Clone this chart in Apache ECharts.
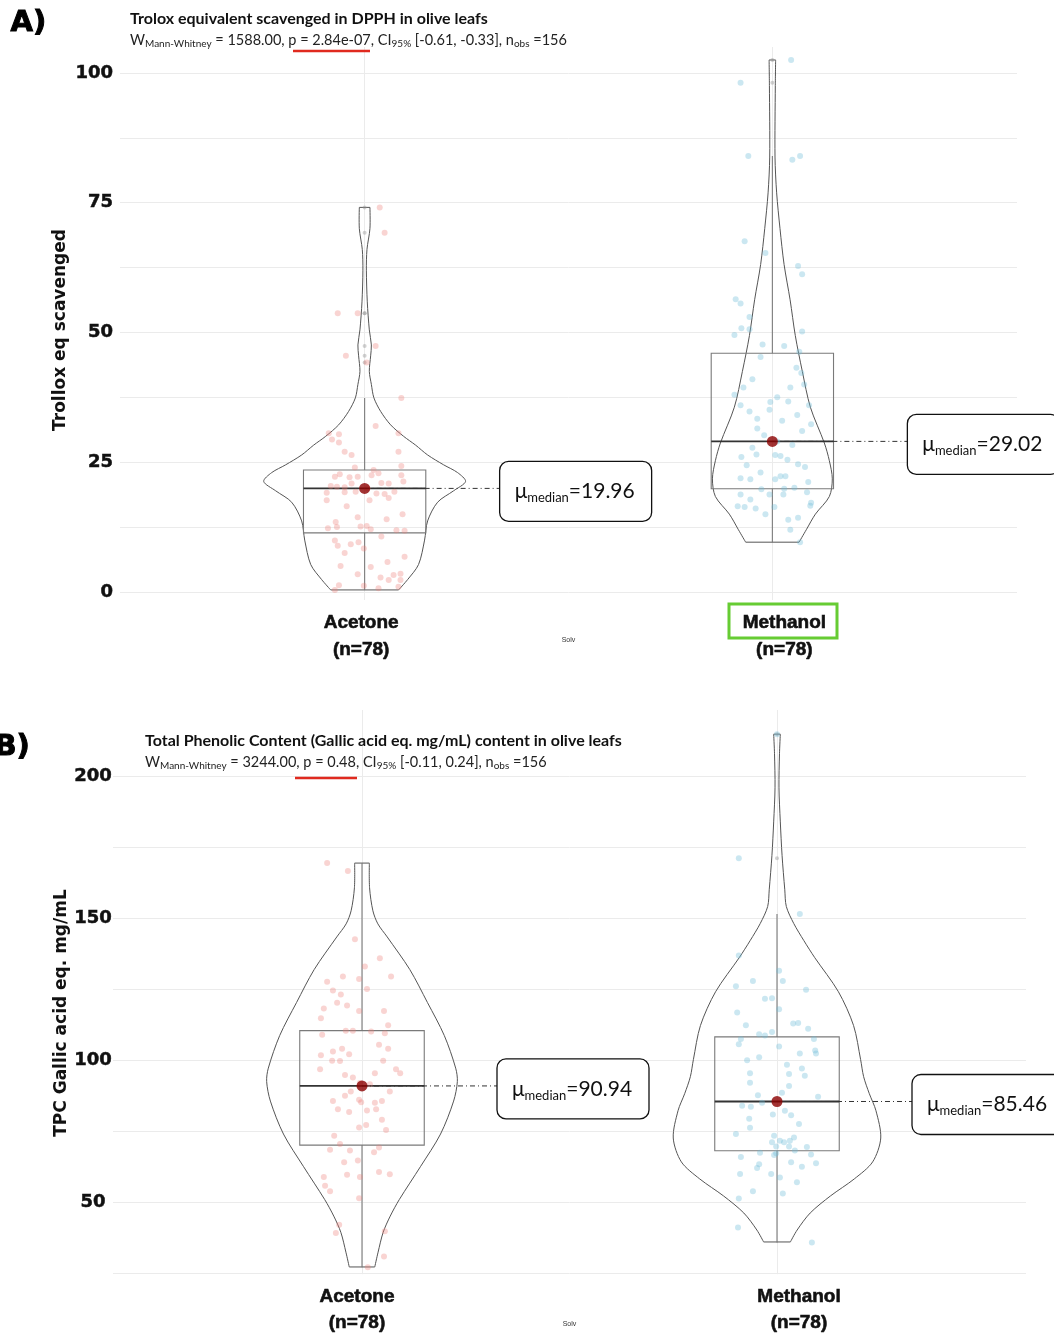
<!DOCTYPE html>
<html>
<head>
<meta charset="utf-8">
<script src="https://cdn.jsdelivr.net/npm/echarts@6/dist/echarts.min.js"></script>
<style>
html,body{margin:0;padding:0;background:#ffffff;}
#chart{width:1054px;height:1333px;}
</style>
</head>
<body>
<div id="chart"></div>
<script>
// ================= DATA =================
const categories = ['Acetone', 'Methanol'];
const groupCounts = [78, 78];

// ---- Panel A : Trolox eq scavenged (DPPH) ----
const aTitle = 'Trolox equivalent scavenged in DPPH in olive leafs';
const aStatsParts = ['1588.00', '2.84e-07', '[-0.61, -0.33]', '156'];
const aYLabel = 'Trollox eq scavenged';
const aYTickLabels = [0, 25, 50, 75, 100];
const aGridBreaks = [0, 12.5, 25, 37.5, 50, 62.5, 75, 87.5, 100];
const aMedians = [19.96, 29.02];
// [lower whisker, Q1, median, Q3, upper whisker]
const aAcetoneBox = [0.4, 11.4, 19.96, 23.5, 37.4];
const aMethanolBox = [9.6, 19.9, 29.02, 46.0, 84.0];
const aAcetoneValues = [74.1,69.2,53.7,53.7,47.4,45.5,44.2,37.4,32.0,30.6,29.4,30.4,28.8,30.6,27.0,26.4,27.0,24.3,23.5,22.2,22.7,22.1,22.2,22.5,22.9,20.9,22.5,21.3,20.4,20.3,20.2,20.9,19.1,19.2,19.0,18.9,17.7,17.7,18.1,19.3,15.0,14.4,13.5,12.5,12.3,12.7,12.1,11.9,11.8,9.9,8.9,9.2,9.6,8.4,7.5,6.8,5.8,4.8,3.4,2.8,3.3,3.5,2.3,2.3,1.3,0.4,1.2,0.7,1.0,19.3,21.0,12.6,10.7,20.0,16.5,24.0,14.0,5.0];
const aAcetoneJitter = [.037,.049,-.066,-.017,.027,-.046,.005,.090,.027,-.088,-.080,-.063,-.063,.083,-.049,-.032,.083,.090,.022,-.073,-.061,-.037,-.017,.017,.034,.059,.090,.095,-.083,-.068,-.049,-.032,-.093,-.049,.029,.049,-.093,.012,.059,.073,.093,-.017,-.071,-.068,-.090,.005,.015,.078,.098,-.073,-.066,-.034,-.015,-.002,-.049,.098,.056,.015,-.017,.039,.071,.088,.088,.059,-.063,-.073,-.002,.034,.083,-.022,.041,-.010,.041,.007,-.044,-.024,.054,-.059];
const aMethanolValues = [102.5,98.1,84.0,83.3,84.0,67.6,65.3,62.8,61.2,56.4,55.6,53.0,50.8,50.6,49.5,50.2,47.7,47.4,45.3,46.3,43.2,42.2,39.4,39.4,40.0,38.0,36.0,36.6,36.7,36.0,34.8,35.1,33.4,34.1,32.3,27.8,26.5,26.4,24.6,26.0,24.4,24.1,21.9,21.7,21.7,22.3,22.3,20.1,21.2,19.8,18.8,18.8,18.8,19.2,16.5,16.4,16.1,16.4,15.0,17.2,16.6,13.9,14.3,12.0,9.6,26.2,31.5,19.9,29.0,30.2,28.3,31.0,23.0,17.8,25.5,37.5,41.0,33.0];
const aMethanolJitter = [.046,-.078,-.059,.049,.068,-.068,-.017,.063,.073,-.090,-.078,-.056,-.076,-.056,-.093,.073,-.024,.029,-.029,.066,.059,.071,-.071,.044,.078,-.093,-.078,-.005,.039,.090,-.056,-.007,-.037,.061,.095,-.049,-.039,.007,.063,-.076,-.063,.080,-.078,-.054,.007,.020,.032,.054,.088,-.027,-.007,.027,-.078,.085,-.085,-.068,-.041,.005,-.017,.095,.093,.039,.063,.044,.068,.020,-.037,.029,.012,-.020,.049,.073,-.029,-.054,.037,.012,-.049,.024];
// violin outline: y levels and relative density (half width)
const aAcetoneViolinY = [0.4,2.4,5.3,10,13.7,17.3,19.5,21.3,23,24.5,26.4,28.3,30,32.2,34.8,37.4,40,42.5,45.5,47.6,50.5,55.9,62,66,70,74.1];
const aAcetoneViolinD = [.333,.422,.529,.588,.618,.716,.873,.99,.912,.775,.618,.5,.382,.255,.157,.091,.066,.046,.059,.066,.046,.026,.017,.023,.052,.052];
const aMethanolViolinY = [9.6,12.0,15.0,18.4,21.8,25.3,28.7,35.6,42.5,49.4,56.3,63.1,70.0,76.9,83.8,97.6,102.5];
const aMethanolViolinD = [.262,.333,.422,.559,.588,.559,.51,.373,.294,.225,.174,.115,.075,.042,.026,.029,.032];

// ---- Panel B : Total Phenolic Content ----
const bTitle = 'Total Phenolic Content (Gallic acid eq. mg/mL) content in olive leafs';
const bStatsParts = ['3244.00', '0.48', '[-0.11, 0.24]', '156'];
const bYLabel = 'TPC Gallic acid eq. mg/mL';
const bYTickLabels = [50, 100, 150, 200];
const bGridBreaks = [25, 50, 75, 100, 125, 150, 175, 200];
const bMedians = [90.94, 85.46];
const bAcetoneBox = [27.1, 70.1, 90.94, 110.4, 169.4];
const bMethanolBox = [35.8, 68.1, 85.46, 108.2, 151.5];
const bAcetoneValues = [169.4,166.6,142.6,135.9,133.0,129.5,127.6,129.5,128.6,124.5,123.1,125.1,120.2,119.3,118.2,117.3,117.3,114.8,112.3,110.4,110.4,110.1,109.5,109.0,105.4,104.0,104.0,103.1,102.1,101.7,99.8,99.7,99.8,96.8,96.8,95.4,94.8,93.9,95.4,89.0,89.0,87.5,85.6,86.1,85.2,85.0,85.6,82.7,81.8,82.3,82.7,77.2,76.3,75.4,73.4,70.5,68.5,68.2,69.3,67.6,64.1,64.7,59.7,58.9,60.6,59.8,58.9,55.8,53.9,51.4,42.1,39.2,39.8,30.9,27.1,92.0,91.5,79.0];
const bAcetoneJitter = [-.084,-.034,-.017,.043,.007,.070,-.084,-.046,-.007,-.070,-.051,.012,-.060,-.036,-.092,-.007,.053,-.099,.063,-.039,-.022,.022,.055,-.096,.041,-.048,.063,-.070,-.031,-.099,-.072,-.053,.051,-.101,.082,.092,-.041,-.022,.031,-.027,.067,-.041,-.070,-.007,-.002,.031,.048,-.058,-.031,.012,.034,.010,-.007,.058,-.067,-.053,-.077,-.029,.041,.029,-.043,-.010,-.036,-.005,.041,.067,-.092,-.089,-.077,-.007,-.055,-.063,.055,.053,.014,-.005,.019,.048];
const bMethanolValues = [214.8,171.1,151.5,136.9,131.5,127.9,127.9,126.0,124.8,121.6,121.8,117.9,116.8,112.3,112.9,113.1,111.1,109.1,108.7,109.9,107.5,107.5,105.6,104.8,101.0,103.4,102.4,102.4,98.4,97.1,95.4,95.1,94.5,92.1,90.9,87.7,87.1,83.6,82.2,80.9,80.6,79.4,76.2,74.0,73.4,71.6,71.1,71.1,71.6,72.8,69.6,69.6,68.2,69.4,67.4,67.2,66.6,66.8,65.9,63.7,64.1,63.4,62.0,59.9,59.9,58.7,53.9,53.1,51.3,41.1,35.8,85.0,77.5,88.5,100.0,62.5,84.0,57.0];
const bMethanolJitter = [0,-.092,.055,-.092,.005,-.058,.014,-.099,.070,-.029,-.012,.005,-.096,-.075,.039,.051,.075,-.043,-.029,-.012,-.087,.089,-.092,.005,-.043,.092,.094,.055,.024,.060,-.065,.029,.067,-.065,.029,-.046,.099,-.063,.019,-.010,.034,-.067,-.065,-.099,-.007,.007,.017,-.012,.031,.041,-.002,.029,.043,.072,-.041,-.002,-.007,.082,-.087,.094,.034,-.043,-.048,-.089,-.014,.007,-.058,.014,-.092,-.094,.084,-.036,.053,.012,-.072,.060,-.084,.048];
const bAcetoneViolinY = [27.2,32.4,39.4,45.1,50.9,62.5,74.0,85.6,92.5,97.2,108.7,120.3,131.9,143.4,148,152.6,160.7,169.4];
const bAcetoneViolinD = [.123,.155,.204,.272,.359,.563,.757,.883,.919,.903,.793,.631,.461,.243,.153,.105,.073,.071];
const bMethanolViolinY = [36.0,40.2,46.2,52.2,58.2,64.2,72.6,82.2,88.2,94.2,100.2,112.2,124.1,136.1,142.1,148.1,154.1,160.0,172.0,183.9,195.9,207.9,214.8];
const bMethanolViolinD = [.129,.194,.32,.515,.745,.922,1.0,.954,.89,.835,.806,.738,.592,.364,.259,.162,.09,.075,.049,.032,.019,.024,.032];

// ================= STYLE CONSTANTS =================
const violinHalf = 0.25;   // category units for density 1
const boxHalf = 0.15;
const pointColors = ['rgba(238,128,122,0.42)', 'rgba(110,188,215,0.45)'];
const gridColor = '#ebebeb';
const labelFont = 'Lato';

// ================= BUILD =================
const panels = [
  { values: [aAcetoneValues, aMethanolValues], jitter: [aAcetoneJitter, aMethanolJitter],
    box: [aAcetoneBox, aMethanolBox], medians: aMedians,
    violins: [{ y: aAcetoneViolinY, d: aAcetoneViolinD }, { y: aMethanolViolinY, d: aMethanolViolinD }] },
  { values: [bAcetoneValues, bMethanolValues], jitter: [bAcetoneJitter, bMethanolJitter],
    box: [bAcetoneBox, bMethanolBox], medians: bMedians,
    violins: [{ y: bAcetoneViolinY, d: bAcetoneViolinD }, { y: bMethanolViolinY, d: bMethanolViolinD }] }
];

function violinRender(profiles) {
  return function (params, api) {
    const prof = profiles[params.dataIndex];
    const cx = api.value(0);
    const L = [], R = [];
    for (let i = 0; i < prof.y.length; i++) {
      L.push(api.coord([cx - prof.d[i] * violinHalf, prof.y[i]]));
      R.push(api.coord([cx + prof.d[i] * violinHalf, prof.y[i]]));
    }
    const n = L.length - 1;
    const st = { stroke: '#555555', lineWidth: 1, fill: 'none' };
    return { type: 'group', children: [
      { type: 'polyline', shape: { points: L, smooth: 0.3 }, style: st },
      { type: 'polyline', shape: { points: R, smooth: 0.3 }, style: st },
      { type: 'line', shape: { x1: L[0][0], y1: L[0][1], x2: R[0][0], y2: R[0][1] }, style: st },
      { type: 'line', shape: { x1: L[n][0], y1: L[n][1], x2: R[n][0], y2: R[n][1] }, style: st }
    ]};
  };
}

function boxRender(params, api) {
  const x = api.value(0), mn = api.value(1), q1 = api.value(2), md = api.value(3), q3 = api.value(4), mx = api.value(5);
  const tl = api.coord([x - boxHalf, q3]), br = api.coord([x + boxHalf, q1]);
  const top = api.coord([x, mx]), bot = api.coord([x, mn]);
  const c3 = api.coord([x, q3]), c1 = api.coord([x, q1]);
  const ml = api.coord([x - boxHalf, md]), mr = api.coord([x + boxHalf, md]);
  const st = { stroke: '#7a7a7a', lineWidth: 1.1, fill: 'none' };
  return { type: 'group', children: [
    { type: 'rect', shape: { x: tl[0], y: tl[1], width: br[0] - tl[0], height: br[1] - tl[1] }, style: st },
    { type: 'line', shape: { x1: top[0], y1: top[1], x2: c3[0], y2: c3[1] }, style: st },
    { type: 'line', shape: { x1: c1[0], y1: c1[1], x2: bot[0], y2: bot[1] }, style: st },
    { type: 'line', shape: { x1: ml[0], y1: ml[1], x2: mr[0], y2: mr[1] }, style: { stroke: '#333333', lineWidth: 1.8 } }
  ]};
}

function medianLabelRender(params, api) {
  const x = api.value(0), md = api.value(1);
  const c = api.coord([x, md]);
  const bx = c[0] + 135, by = c[1] + 3;
  return { type: 'group', children: [
    { type: 'line', shape: { x1: c[0], y1: c[1], x2: bx, y2: c[1] }, style: { stroke: '#333', lineWidth: 1, lineDash: [5, 3, 1, 3] } },
    { type: 'rect', shape: { x: bx, y: by - 30, width: 152, height: 60, r: 9 }, style: { fill: '#fff', stroke: '#111', lineWidth: 1.3 } },
    { type: 'text', x: bx + 15, y: by, style: {
        text: '{n|μ}{s|median}{n|=' + md.toFixed(2) + '}',
        verticalAlign: 'middle', align: 'left',
        rich: {
          n: { fontFamily: labelFont, fontSize: 21, lineHeight: 26, fill: '#111', color: '#111' },
          s: { fontFamily: labelFont, fontSize: 13, lineHeight: 9, verticalAlign: 'bottom', fill: '#111', color: '#111' }
        } } }
  ]};
}

const series = [];
panels.forEach((p, g) => {
  series.push({
    type: 'custom', xAxisIndex: g, yAxisIndex: g, z: 2, clip: false, silent: true,
    renderItem: violinRender(p.violins),
    data: [[1, p.medians[0]], [2, p.medians[1]]]
  });
  series.push({
    type: 'custom', xAxisIndex: g, yAxisIndex: g, z: 3, clip: false, silent: true,
    renderItem: boxRender,
    data: [[1].concat(p.box[0]), [2].concat(p.box[1])]
  });
  // outliers (beyond whiskers), drawn at category centre
  const outl = [];
  p.values.forEach((vals, k) => vals.forEach(v => {
    if (v > p.box[k][4] || v < p.box[k][0]) outl.push([k + 1, v]);
  }));
  series.push({
    type: 'scatter', xAxisIndex: g, yAxisIndex: g, z: 3, silent: true,
    symbolSize: 4, itemStyle: { color: 'rgba(150,150,150,0.55)' }, data: outl
  });
  p.values.forEach((vals, k) => {
    series.push({
      type: 'scatter', xAxisIndex: g, yAxisIndex: g, z: 4, silent: true,
      symbolSize: 6, itemStyle: { color: pointColors[k] },
      data: vals.map((v, i) => [k + 1 + p.jitter[k][i], v])
    });
  });
  series.push({
    type: 'custom', xAxisIndex: g, yAxisIndex: g, z: 5, clip: false, silent: true,
    renderItem: medianLabelRender,
    data: [[1, p.medians[0]], [2, p.medians[1]]]
  });
  series.push({
    type: 'scatter', xAxisIndex: g, yAxisIndex: g, z: 6, silent: true,
    symbolSize: 11, itemStyle: { color: '#8b0000' },
    data: [[1, p.medians[0]], [2, p.medians[1]]]
  });
});

function catFormatter(panelIdx) {
  return function (v) {
    const k = Math.round(v) - 1;
    const tag = 'p' + panelIdx + 'c' + k;
    return '{' + tag + '|' + categories[k] + '}\n{' + tag + '|(n=' + groupCounts[k] + ')}';
  };
}
function catRich(padA, padB, lh) {
  const base = { fontFamily: 'Liberation Sans', fontWeight: 'bold', fontSize: 19, lineHeight: lh, color: '#111',
                 textBorderColor: '#111', textBorderWidth: 0.6 };
  return [Object.assign({}, base, { padding: padA }), Object.assign({}, base, { padding: padB })];
}
const ra = catRich([0, 7, 0, 0], [0, 0, 0, 24], 27);
const rb = catRich([0, 10, 0, 0], [0, 0, 0, 44], 26);

function subtitleText(parts) {
  return '{n|W}{s|Mann-Whitney}{n| = ' + parts[0] + ', p = ' + parts[1] + ', CI}{s|95%}{n| ' + parts[2] + ', n}{s|obs}{n| =' + parts[3] + '}';
}
const subRich = {
  n: { fontFamily: labelFont, fontSize: 14.5, lineHeight: 17, color: '#222' },
  s: { fontFamily: labelFont, fontSize: 10, lineHeight: 9, verticalAlign: 'bottom', color: '#222' }
};

const tickFont = { fontFamily: 'DejaVu Sans', fontWeight: 'bold', fontSize: 18, color: '#111', textBorderColor: '#111', textBorderWidth: 0.5 };
const yLabelA = Object.assign({ customValues: aYTickLabels, margin: 7 }, tickFont);
const yLabelB = Object.assign({ customValues: bYTickLabels, margin: 20, align: 'center' }, tickFont);

const option = {
  backgroundColor: '#ffffff',
  animation: false,
  title: [
    { text: aTitle, subtext: subtitleText(aStatsParts), left: 130, top: 11, padding: 0, itemGap: 5,
      textStyle: { fontFamily: labelFont, fontWeight: 'bold', fontSize: 16, color: '#111' },
      subtextStyle: { fontFamily: labelFont, fontSize: 14.5, color: '#222', rich: subRich } },
    { text: bTitle, subtext: subtitleText(bStatsParts), left: 145, top: 733, padding: 0, itemGap: 5,
      textStyle: { fontFamily: labelFont, fontWeight: 'bold', fontSize: 16, color: '#111' },
      subtextStyle: { fontFamily: labelFont, fontSize: 14.5, color: '#222', rich: subRich } }
  ],
  grid: [
    { left: 120, right: 37, top: 47, height: 553 },
    { left: 113, right: 28, top: 710, height: 572 }
  ],
  xAxis: [
    { gridIndex: 0, type: 'value', min: 0.4, max: 2.6,
      axisLine: { show: false }, axisTick: { show: false, customValues: [1, 2] },
      splitLine: { show: true, lineStyle: { color: gridColor, width: 1 } },
      axisLabel: { customValues: [1, 2], margin: 9, formatter: catFormatter(0), rich: { p0c0: ra[0], p0c1: ra[1] } },
      name: 'Solv', nameLocation: 'middle', nameGap: 37, nameMoveOverlap: false,
      nameTextStyle: { fontSize: 7, color: '#333', fontFamily: 'Liberation Sans' } },
    { gridIndex: 1, type: 'value', min: 0.4, max: 2.6,
      axisLine: { show: false }, axisTick: { show: false, customValues: [1, 2] },
      splitLine: { show: true, lineStyle: { color: gridColor, width: 1 } },
      axisLabel: { customValues: [1, 2], margin: 10, formatter: catFormatter(1), rich: { p1c0: rb[0], p1c1: rb[1] } },
      name: 'Solv', nameLocation: 'middle', nameGap: 46, nameMoveOverlap: false,
      nameTextStyle: { fontSize: 7, color: '#333', fontFamily: 'Liberation Sans' } }
  ],
  yAxis: [
    { gridIndex: 0, type: 'value', min: -1.54, max: 105.0,
      axisLine: { show: false }, axisTick: { show: false, customValues: aGridBreaks },
      splitLine: { show: true, lineStyle: { color: gridColor, width: 1 } },
      axisLabel: yLabelA },
    { gridIndex: 1, type: 'value', min: 24.65, max: 223.3,
      axisLine: { show: false }, axisTick: { show: false, customValues: bGridBreaks },
      splitLine: { show: true, lineStyle: { color: gridColor, width: 1 } },
      axisLabel: yLabelB }
  ],
  graphic: [
    { type: 'text', left: 10, top: 8, z: 10, style: { text: 'A)', fontFamily: 'DejaVu Sans', fontWeight: 'bold', fontSize: 29, fill: '#000', stroke: '#000', lineWidth: 1 } },
    { type: 'text', left: -6, top: 732, z: 10, style: { text: 'B)', fontFamily: 'DejaVu Sans', fontWeight: 'bold', fontSize: 29, fill: '#000', stroke: '#000', lineWidth: 1 } },
    { type: 'text', x: 61, y: 330, rotation: Math.PI / 2, z: 10,
      style: { text: aYLabel, align: 'center', verticalAlign: 'middle', fontFamily: 'DejaVu Sans', fontWeight: 'bold', fontSize: 17, fill: '#111' } },
    { type: 'text', x: 62, y: 1013, rotation: Math.PI / 2, z: 10,
      style: { text: bYLabel, align: 'center', verticalAlign: 'middle', fontFamily: 'DejaVu Sans', fontWeight: 'bold', fontSize: 17, fill: '#111' } },
    { type: 'line', z: 10, shape: { x1: 293, y1: 51, x2: 370, y2: 51 }, style: { stroke: '#e02a1f', lineWidth: 2.5 } },
    { type: 'line', z: 10, shape: { x1: 295, y1: 778, x2: 357, y2: 778 }, style: { stroke: '#e02a1f', lineWidth: 2.5 } },
    { type: 'rect', z: 10, shape: { x: 729, y: 604, width: 108, height: 34 }, style: { fill: 'none', stroke: '#66cc33', lineWidth: 3 } }
  ],
  series: series
};

const chart = echarts.init(document.getElementById('chart'), null, { renderer: 'canvas' });
chart.setOption(option);
</script>
</body>
</html>
